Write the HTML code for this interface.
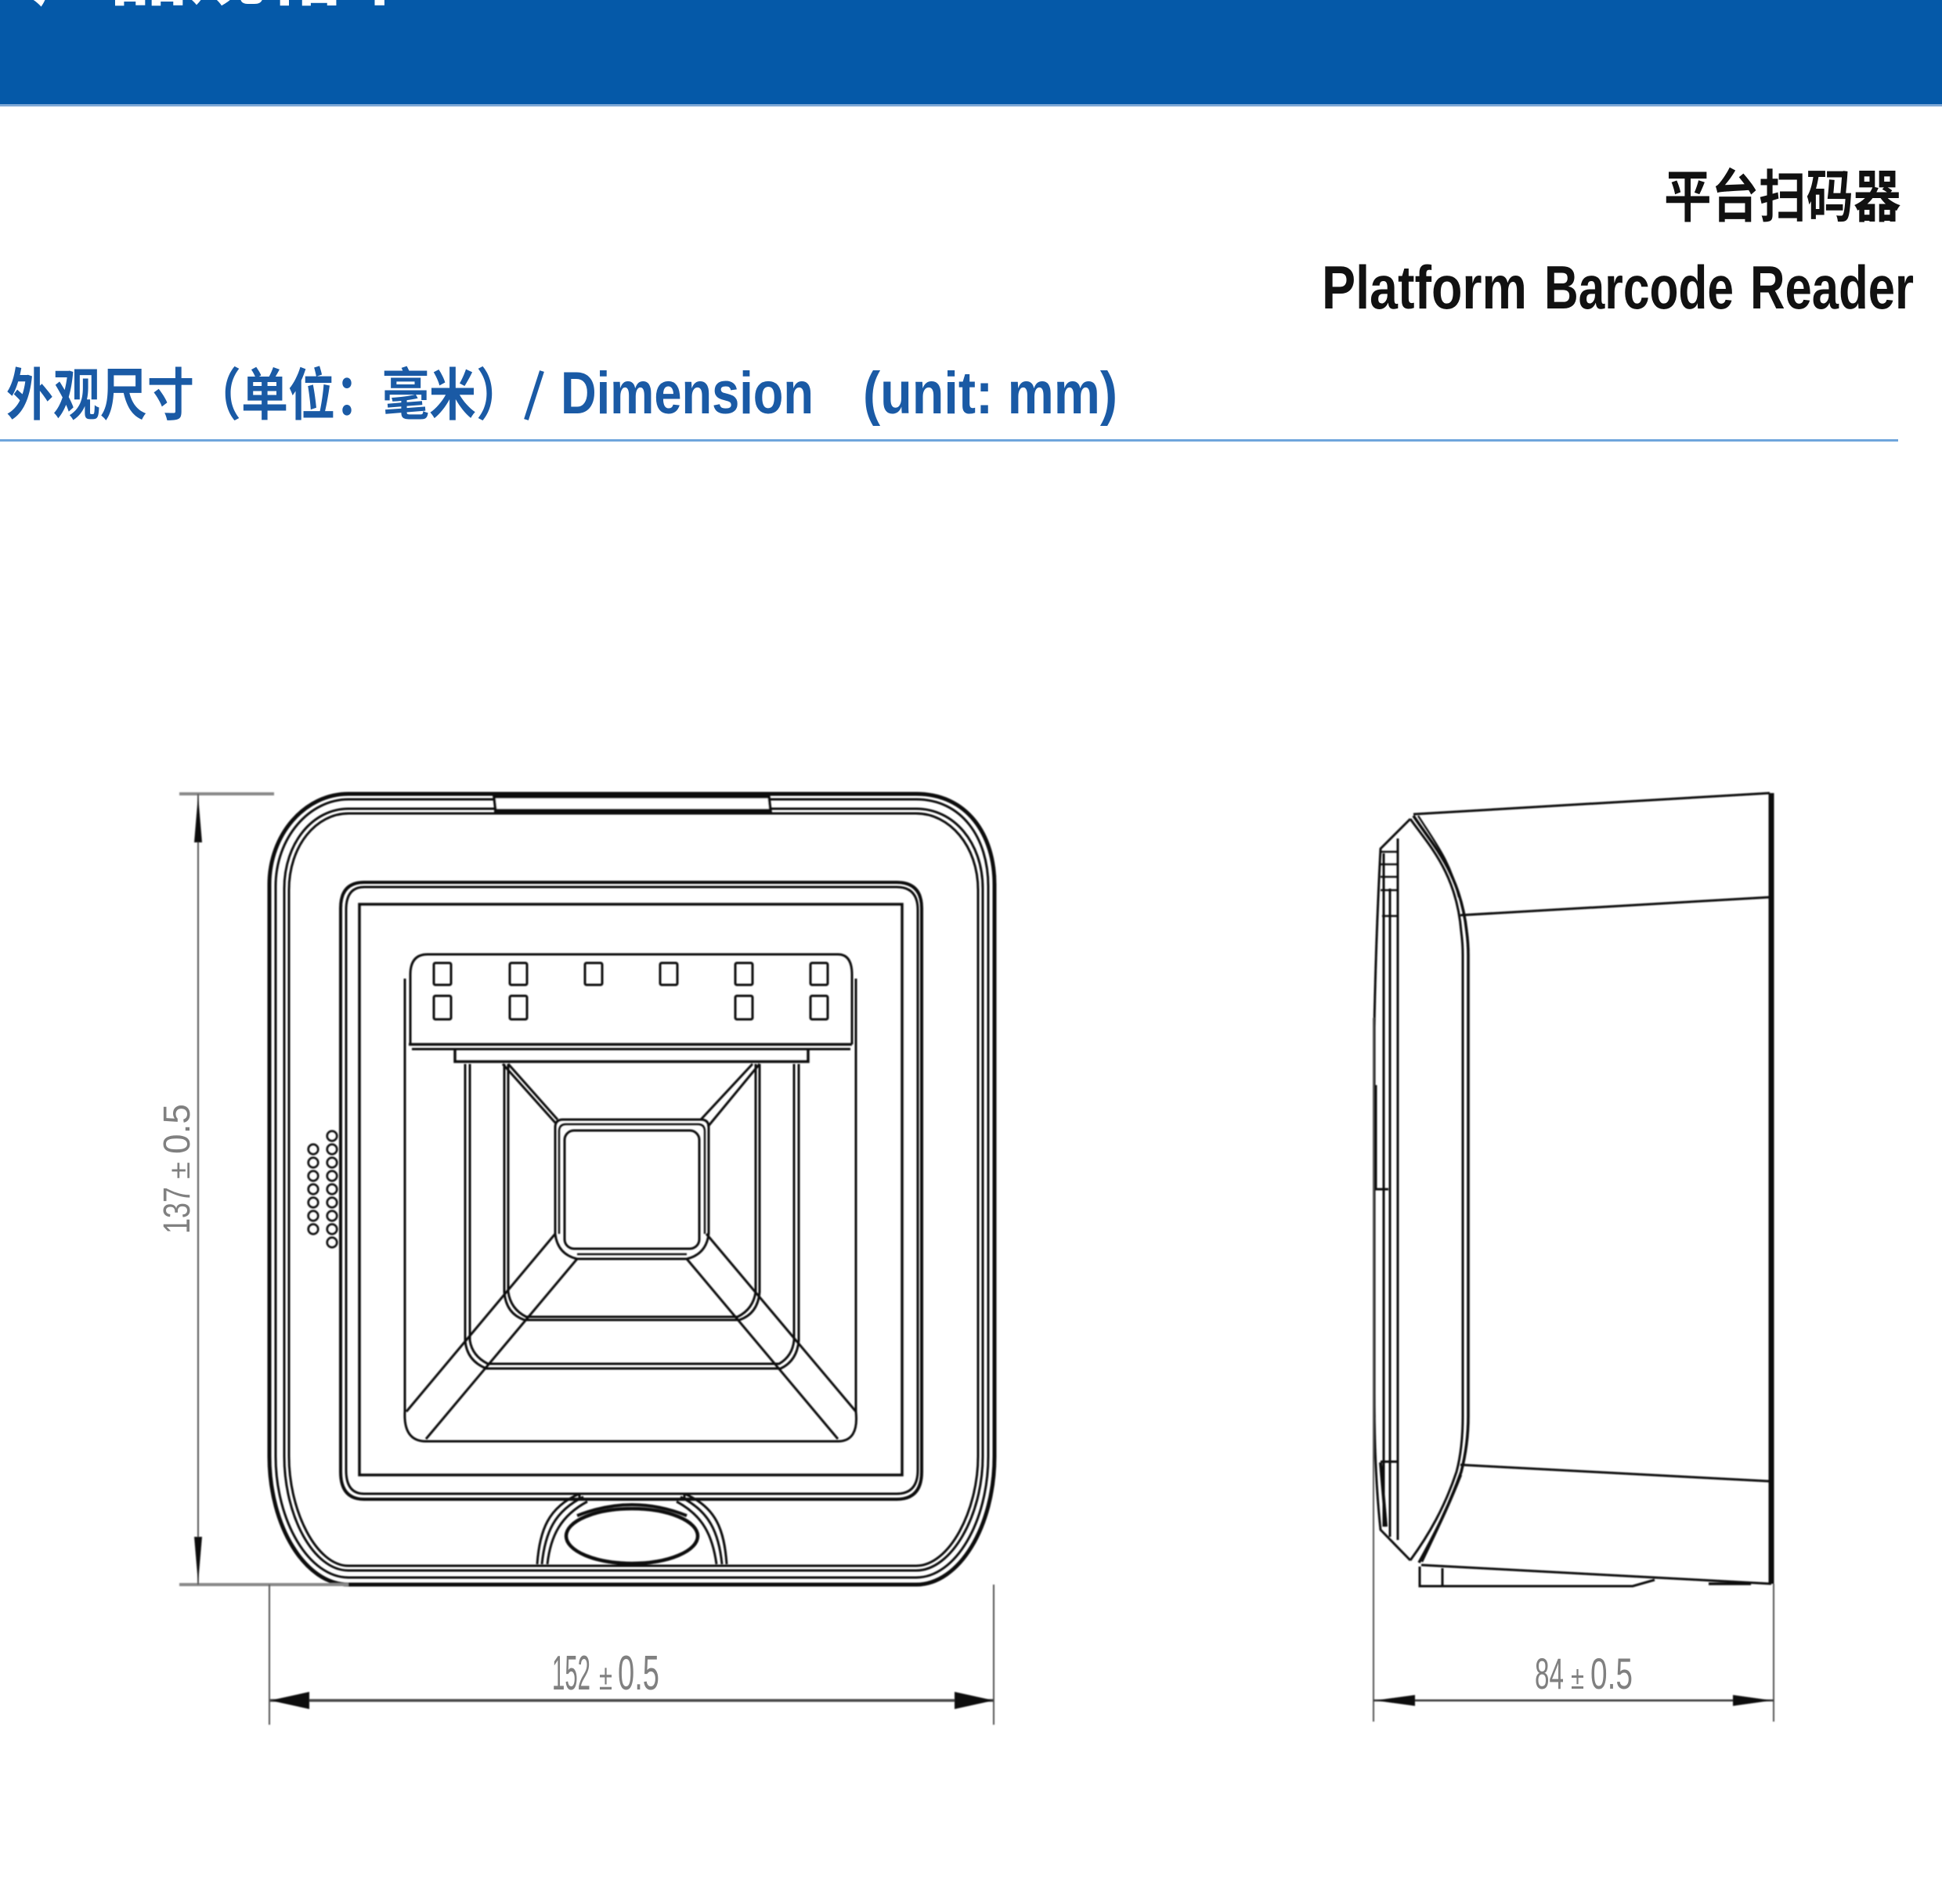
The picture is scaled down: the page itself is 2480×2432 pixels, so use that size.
<!DOCTYPE html>
<html lang="zh">
<head>
<meta charset="utf-8">
<title>Platform Barcode Reader</title>
<style>
html,body{margin:0;padding:0;background:#fff;width:2480px;height:2432px;overflow:hidden}
svg{display:block}
.cjk{font-family:"Liberation Sans","Noto Sans CJK SC",sans-serif;font-weight:700}
.lat{font-family:"Liberation Sans","Noto Sans CJK SC",sans-serif;font-weight:700}
.dim{font-family:"Liberation Sans",sans-serif;fill:#808080}
</style>
</head>
<body>
<svg width="2480" height="2432" viewBox="0 0 2480 2432" xmlns="http://www.w3.org/2000/svg">
<defs>
<filter id="b" x="-5%" y="-5%" width="110%" height="110%"><feGaussianBlur stdDeviation="0.9"/></filter>
</defs>
<rect width="2480" height="2432" fill="#fff"/>
<rect width="2480" height="133" fill="#0559a8"/>
<rect y="133" width="2480" height="3" fill="#7fa9d6"/>
<text class="cjk" transform="translate(40,-2)" font-size="100" fill="#fff">产品规格书</text>

<text class="cjk" transform="translate(2125,277) scale(1,1.2)" font-size="60.5" fill="#111">平台扫码器</text>
<g class="lat" font-size="78" fill="#111">
<text x="1688" y="394" textLength="262" lengthAdjust="spacingAndGlyphs">Platform</text>
<text x="1972" y="394" textLength="242" lengthAdjust="spacingAndGlyphs">Barcode</text>
<text x="2235" y="394" textLength="209" lengthAdjust="spacingAndGlyphs">Reader</text>
</g>

<text class="cjk" transform="translate(8,530) scale(1,1.2)" font-size="60" fill="#1a5aa5">外观尺寸（单位：毫米）</text>
<path d="M692 474L672 536" stroke="#1a5aa5" stroke-width="6" fill="none"/>
<text class="lat" x="716" y="528" font-size="76" fill="#1a5aa5" textLength="323" lengthAdjust="spacingAndGlyphs">Dimension</text>
<text class="lat" x="1102" y="528" font-size="76" fill="#1a5aa5" textLength="325" lengthAdjust="spacingAndGlyphs">(unit: mm)</text>
<rect x="0" y="561" width="2424" height="3" fill="#6fa5dc"/>

<g filter="url(#b)">
<!-- FRONT VIEW -->
<g fill="none" stroke="#111" stroke-width="3">
<path stroke-width="5" d="M445 1014H1170C1235 1014 1270 1066 1270 1130V1860C1270 1950 1225 2024 1170 2024H445C390 2024 344 1950 344 1860V1130C344 1066 389 1014 445 1014Z"/>
<path d="M445 1021H1170C1228 1021 1262 1070 1262 1132V1860C1262 1944 1220 2015 1170 2015H445C395 2015 352 1944 352 1860V1132C352 1070 395 1021 445 1021Z"/>
<path d="M445 1033H1170C1218 1033 1255 1076 1255 1135V1860C1255 1936 1215 2006 1170 2006H445C400 2006 363 1936 363 1860V1135C363 1076 400 1033 445 1033Z"/>
<path d="M445 1039H1170C1212 1039 1249 1080 1249 1137V1860C1249 1930 1212 2000 1170 2000H445C404 2000 369 1930 369 1860V1137C369 1080 404 1039 445 1039Z"/>
<path fill="#fff" stroke-width="3.5" d="M631 1018H982L984 1036H633Z"/>
<path d="M631 1036H982" stroke-width="6"/>
<path stroke-width="4" d="M465 1127H1145Q1177 1127 1177 1160V1880Q1177 1915 1145 1915H465Q435 1915 435 1880V1160Q435 1127 465 1127Z"/>
<path d="M465 1133H1145Q1172 1133 1172 1162V1878Q1172 1908 1145 1908H465Q442 1908 442 1878V1162Q442 1133 465 1133Z"/>
<path stroke-width="3.5" d="M459 1155H1152V1884H459Z"/>
<!-- window -->
<path d="M517 1250V1803Q515 1841 544 1841H1070Q1097 1841 1093 1803V1250"/>
<path d="M524 1334V1245Q524 1219 546 1219H1070Q1088 1219 1088 1245V1334"/>
<path d="M522 1334H1088" stroke-width="3.5"/>
<path d="M526 1340H1086" />
<path d="M581 1340V1356H1032V1340" stroke-width="3.5"/>
<!-- LEDs -->
<g stroke-width="3">
<rect x="554" y="1230" width="22" height="28" rx="2"/><rect x="651" y="1230" width="22" height="28" rx="2"/>
<rect x="747" y="1230" width="22" height="28" rx="2"/><rect x="843" y="1230" width="22" height="28" rx="2"/>
<rect x="939" y="1230" width="22" height="28" rx="2"/><rect x="1035" y="1230" width="22" height="28" rx="2"/>
<rect x="554" y="1272" width="22" height="30" rx="2"/><rect x="651" y="1272" width="22" height="30" rx="2"/>
<rect x="939" y="1272" width="22" height="30" rx="2"/><rect x="1035" y="1272" width="22" height="30" rx="2"/>
</g>
<!-- center -->
<path d="M709 1576V1440Q709 1430 719 1430H895Q905 1430 905 1440V1576"/>
<path d="M737 1608H877"/>
<path d="M714 1576V1445Q714 1436 723 1436H891Q900 1436 900 1445V1576" stroke-width="2.4"/>
<path d="M737 1602H877" stroke-width="2.4"/>
<rect x="721" y="1444" width="172" height="151" rx="12"/>
<!-- top diagonals -->
<path d="M649 1359L712 1430M642 1359L709 1434M961 1359L895 1430M970 1359L904 1439"/>
<!-- bottom diagonals -->
<path d="M709 1576L519 1803M737 1608L544 1838M902 1576L1093 1803M877 1608L1070 1838"/>
<path d="M709 1576Q712 1602 737 1608M905 1576Q902 1602 877 1608"/>
<!-- inner frame -->
<path d="M644 1359V1650Q646 1678 670 1686H944Q968 1678 970 1650V1359"/>
<path d="M649 1359V1650Q652 1672 672 1682H942Q962 1672 965 1650V1359"/>
<path d="M594 1359V1712Q596 1738 621 1748H997Q1018 1738 1020 1712V1359"/>
<path d="M600 1359V1712Q603 1732 623 1742H995Q1012 1732 1014 1712V1359"/>
<!-- speaker holes -->
<g stroke-width="2.6">
<circle cx="400" cy="1468" r="6.3"/><circle cx="400" cy="1485" r="6.3"/><circle cx="400" cy="1502" r="6.3"/><circle cx="400" cy="1519" r="6.3"/><circle cx="400" cy="1536" r="6.3"/><circle cx="400" cy="1553" r="6.3"/><circle cx="400" cy="1570" r="6.3"/>
<circle cx="424" cy="1451" r="6.3"/><circle cx="424" cy="1468" r="6.3"/><circle cx="424" cy="1485" r="6.3"/><circle cx="424" cy="1502" r="6.3"/><circle cx="424" cy="1519" r="6.3"/><circle cx="424" cy="1536" r="6.3"/><circle cx="424" cy="1553" r="6.3"/><circle cx="424" cy="1570" r="6.3"/><circle cx="424" cy="1587" r="6.3"/>
</g>
<!-- bottom LED -->
<path d="M686 1998C689 1955 700 1925 740 1908M692 1998C696 1958 708 1930 745 1912M699 1998C703 1962 716 1936 750 1918M928 1998C925 1955 915 1925 874 1908M922 1998C918 1958 906 1930 869 1912M915 1998C910 1962 898 1936 864 1918"/>
<path d="M740 1908V1915M874 1908V1915" />
<path stroke-width="4" d="M737 1936Q807 1908 877 1936"/>
<ellipse cx="807" cy="1962" rx="84" ry="35" stroke-width="4.5"/>
</g>
<!-- front dims -->
<g fill="none" stroke="#555" stroke-width="2">
<path d="M229 1014H350" stroke="#888" stroke-width="4"/>
<path d="M229 2024H445" stroke="#888" stroke-width="4"/>
<path d="M253 1014V2024"/>
<path d="M344 2024V2203M1269 2024V2203"/>
<path d="M345 2172H1269" stroke="#444" stroke-width="3.5"/>
</g>
<g fill="#111">
<path d="M253 1016L248 1076H258Z"/>
<path d="M253 2022L248 1963H258Z"/>
<path d="M345 2172L395 2161V2183Z"/>
<path d="M1269 2172L1219 2161V2183Z"/>
</g>
<!-- SIDE VIEW -->
<g fill="none" stroke="#111" stroke-width="3">
<path d="M2262 1013V2023" stroke-width="7"/>
<path d="M1805 1040L2260 1013"/>
<path d="M1865 1169L2260 1146"/>
<path d="M1865 1871L2260 1892"/>
<path d="M1815 1999L2262 2023"/>
<path d="M1801 1046C1825 1080 1860 1115 1866 1190Q1868 1205 1868 1220V1809Q1868 1850 1860 1880C1845 1925 1825 1960 1801 1993"/>
<path d="M1805 1042C1830 1080 1865 1115 1873 1190Q1875 1205 1875 1220V1809Q1875 1845 1866 1880C1850 1925 1832 1960 1812 1996" stroke-width="3.6"/>
<path d="M1811 1042C1834 1078 1852 1100 1863 1146M1866 1884C1850 1925 1835 1955 1816 1995" stroke-width="2.4"/>
<path d="M1801 1046L1763 1084Q1757 1200 1755 1312V1780Q1755 1880 1763 1954L1801 1993"/>
<path d="M1785 1071V1967M1775 1135V1963M1767 1090V1950"/>
<path d="M1763 1088H1785M1763 1104H1785M1763 1120H1785M1763 1137H1785M1765 1170H1785" stroke-width="2.4"/>
<path d="M1757 1386V1519H1773M1763 1867H1785"/>
<path d="M1763 1868L1770 1950" stroke-width="4"/>
<path d="M1813 2001V2026H2085L2113 2018M1842 2003V2026"/>
<path d="M2182 2023H2236" stroke-width="3.5"/>
</g>
<g fill="none" stroke="#555" stroke-width="2">
<path d="M1754 1300V2199M2265 2023V2199"/>
<path d="M1754 2172H2265" stroke="#333" stroke-width="2.6"/>
</g>
<g fill="#111">
<path d="M1756 2172L1807 2165V2179Z"/>
<path d="M2263 2172L2213 2165V2179Z"/>
</g>
</g>
<!-- dim text -->
<g class="dim" font-size="62">
<text x="705" y="2158" textLength="49" lengthAdjust="spacingAndGlyphs">152</text>
<text x="765" y="2158" font-size="46" textLength="17" lengthAdjust="spacingAndGlyphs">±</text>
<text x="789" y="2158" textLength="53" lengthAdjust="spacingAndGlyphs">0.5</text>
</g>
<g class="dim" font-size="56">
<text x="1960" y="2157" textLength="37" lengthAdjust="spacingAndGlyphs">84</text>
<text x="2006" y="2157" font-size="42" textLength="17" lengthAdjust="spacingAndGlyphs">±</text>
<text x="2031" y="2157" textLength="54" lengthAdjust="spacingAndGlyphs">0.5</text>
</g>
<g class="dim" font-size="48" transform="translate(242,1576) rotate(-90)">
<text x="0" y="0" textLength="60" lengthAdjust="spacingAndGlyphs">137</text>
<text x="70" y="0" font-size="38" textLength="22" lengthAdjust="spacingAndGlyphs">±</text>
<text x="102" y="0" textLength="64" lengthAdjust="spacingAndGlyphs">0.5</text>
</g>
</svg>
</body>
</html>
